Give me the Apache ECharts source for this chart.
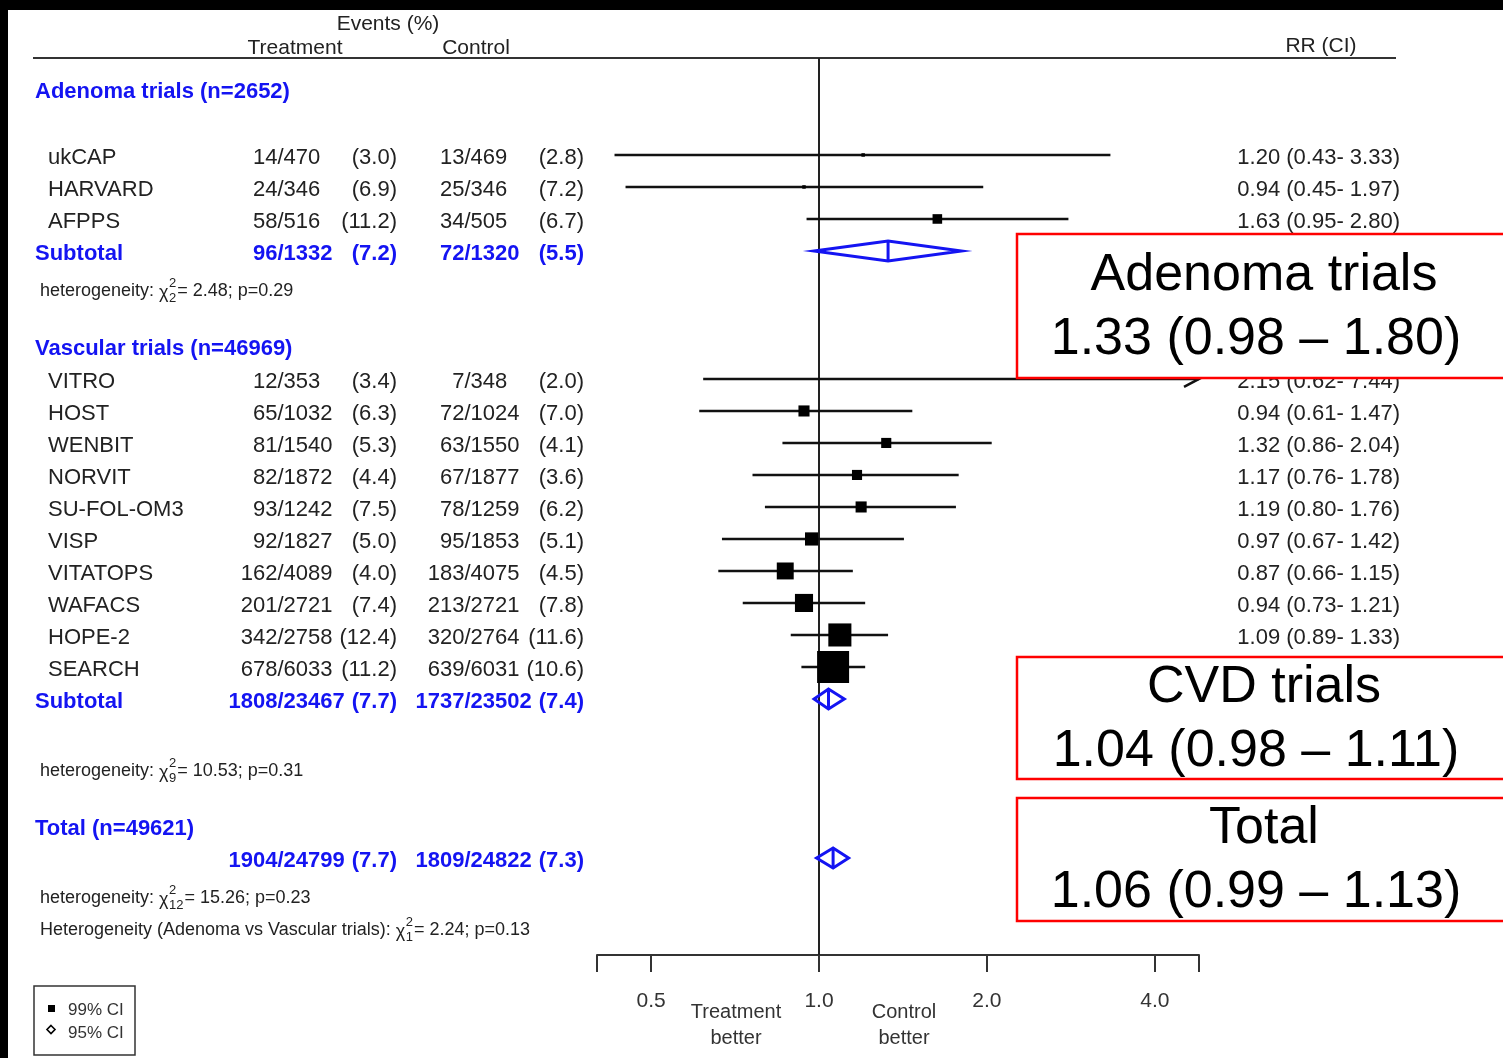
<!DOCTYPE html>
<html><head><meta charset="utf-8">
<script src="https://cdn.jsdelivr.net/npm/echarts@6/dist/echarts.min.js"></script>
<style>html,body{margin:0;padding:0;background:#fff}#c{width:1503px;height:1058px}</style>
</head><body><div id="c"></div>
<script>
// ---------------- data ----------------
const studies   = ['ukCAP','HARVARD','AFPPS','VITRO','HOST','WENBIT','NORVIT','SU-FOL-OM3','VISP','VITATOPS','WAFACS','HOPE-2','SEARCH'];
const studyRow  = [3.03,4.03,5.03,10.03,11.03,12.03,13.03,14.03,15.03,16.03,17.03,18.03,19.03];
const trtEvents = [14,24,58,12,65,81,82,93,92,162,201,342,678];
const trtTotal  = [470,346,516,353,1032,1540,1872,1242,1827,4089,2721,2758,6033];
const trtPct    = ['3.0','6.9','11.2','3.4','6.3','5.3','4.4','7.5','5.0','4.0','7.4','12.4','11.2'];
const ctlEvents = [13,25,34,7,72,63,67,78,95,183,213,320,639];
const ctlTotal  = [469,346,505,348,1024,1550,1877,1259,1853,4075,2721,2764,6031];
const ctlPct    = ['2.8','7.2','6.7','2.0','7.0','4.1','3.6','6.2','5.1','4.5','7.8','11.6','10.6'];
const rrVal     = [1.20,0.94,1.63,2.15,0.94,1.32,1.17,1.19,0.97,0.87,0.94,1.09,1.06];
const rrLo      = [0.43,0.45,0.95,0.62,0.61,0.86,0.76,0.80,0.67,0.66,0.73,0.89,0.93];
const rrHi      = [3.33,1.97,2.80,7.44,1.47,2.04,1.78,1.76,1.42,1.15,1.21,1.33,1.21];
const boxWeight = [0.012,0.012,0.09,0.002,0.12,0.1,0.1,0.12,0.17,0.28,0.32,0.52,1.0];

const sumLabels    = ['Subtotal','Subtotal',''];
const sumRow       = [6.03,20.03,25.0];
const sumTrtEvents = [96,1808,1904];
const sumTrtTotal  = [1332,23467,24799];
const sumTrtPct    = ['7.2','7.7','7.7'];
const sumCtlEvents = [72,1737,1809];
const sumCtlTotal  = [1320,23502,24822];
const sumCtlPct    = ['5.5','7.4','7.3'];
const sumRR        = [1.33,1.04,1.06];
const sumLo        = [0.98,0.98,0.99];
const sumHi        = [1.80,1.11,1.13];

const groupHeaders = ['Adenoma trials (n=2652)','Vascular trials (n=46969)','Total (n=49621)'];
const groupRow     = [0.97,9.0,24.0];

const hetPrefix = ['heterogeneity: ','heterogeneity: ','heterogeneity: ','Heterogeneity (Adenoma vs Vascular trials): '];
const hetDf     = ['2','9','12','1'];
const hetStat   = ['= 2.48; p=0.29','= 10.53; p=0.31','= 15.26; p=0.23','= 2.24; p=0.13'];
const hetRow    = [7.19,22.19,26.16,27.16];

const boxTitles = ['Adenoma trials','CVD trials','Total'];
const boxValues = ['1.33 (0.98 \u2013 1.80)','1.04 (0.98 \u2013 1.11)','1.06 (0.99 \u2013 1.13)'];

const xTickValues = [0.5,1,2,4];
const xTickLabels = ['0.5','1.0','2.0','4.0'];
const legendLabels = ['99% CI','95% CI'];

// ---------------- style / layout ----------------
const FONT = "'Liberation Sans', Arial, Helvetica, sans-serif";
const TXT = '#222';
const BLUE = '#1414f2';
const X_MIN = 0.4, X_MAX = 4.8, Y_MAX = 897/32;
const TXT_DY = 3;
const COL = {name:48, group:35, tSlash:277.5, tPct:397, cSlash:464.5, cPct:584, rr:1400};

const mctx = document.createElement('canvas').getContext('2d');
function tw(text, font){ mctx.font = font; return mctx.measureText(text).width; }
function T(text, x, y, font, fill, align){
  return {type:'text', x:x, y:y, style:{text:text, font:font, fill:fill, align:align||'left', verticalAlign:'middle'}};
}
const F22 = `22px ${FONT}`, F22B = `bold 22px ${FONT}`;
function rrStr(r,l,h){ return `${r.toFixed(2)} (${l.toFixed(2)}- ${h.toFixed(2)})`; }
function rowTexts(y, ev1, tot1, p1, ev2, tot2, p2, font, fill){
  return [
    T(String(ev1), COL.tSlash, y, font, fill, 'right'),
    T('/' + tot1, COL.tSlash, y, font, fill, 'left'),
    T('(' + p1 + ')', COL.tPct, y, font, fill, 'right'),
    T(String(ev2), COL.cSlash, y, font, fill, 'right'),
    T('/' + tot2, COL.cSlash, y, font, fill, 'left'),
    T('(' + p2 + ')', COL.cPct, y, font, fill, 'right')
  ];
}

const chart = echarts.init(document.getElementById('c'), null, {renderer:'canvas'});

const option = {
  animation:false,
  backgroundColor:'#fff',
  grid:{left:597, right:304, top:58, bottom:103},
  xAxis:{
    type:'log', logBase:2, min:X_MIN, max:X_MAX, position:'bottom',
    axisLine:{show:true, onZero:false, lineStyle:{color:'#333', width:2}},
    axisTick:{show:true, length:17, inside:false, lineStyle:{color:'#333', width:2}},
    splitLine:{show:false},
    axisLabel:{
      margin:36, fontSize:21, color:'#333', fontFamily:FONT,
      showMinLabel:true, showMaxLabel:true,
      formatter:function(v){
        for (let k=0;k<xTickValues.length;k++){ if (Math.abs(xTickValues[k]-v) < 1e-6) return xTickLabels[k]; }
        return '';
      }
    }
  },
  yAxis:{type:'value', min:0, max:Y_MAX, inverse:true, show:false},
  series:[
    { // study CI lines & weight boxes
      type:'custom', name:'studies', silent:true, z:5, clip:false,
      data: studies.map((s,i)=>[rrVal[i], studyRow[i], rrLo[i], rrHi[i], boxWeight[i]]),
      encode:{x:0, y:1},
      renderItem:function(params, api){
        const r=api.value(0), row=api.value(1), l=api.value(2), h=api.value(3), w=api.value(4);
        const y = api.coord([r,row])[1];
        const xc = api.coord([r,row])[0];
        const xl = api.coord([l,row])[0];
        const capped = h > X_MAX;
        const xh = api.coord([capped ? X_MAX : h, row])[0];
        const ch = [{type:'line', shape:{x1:xl,y1:y,x2:xh,y2:y}, style:{stroke:'#111', lineWidth:2.5}}];
        if (capped) ch.push({type:'polyline', shape:{points:[[xh-15,y-8],[xh,y],[xh-15,y+8]]}, style:{stroke:'#111', lineWidth:2.5, fill:null}});
        const side = 32*Math.sqrt(w);
        if (side > 2) ch.push({type:'rect', shape:{x:xc-side/2, y:y-side/2, width:side, height:side}, style:{fill:'#000'}});
        return {type:'group', children:ch};
      },
      markLine:{
        silent:true, symbol:['none','none'], label:{show:false},
        lineStyle:{color:'#222', width:2, type:'solid'},
        emphasis:{disabled:true},
        data:[{xAxis:1}]
      }
    },
    { // summary diamonds
      type:'custom', name:'summary', silent:true, z:6, clip:false,
      data: sumRR.map((r,i)=>[r, sumRow[i], sumLo[i], sumHi[i]]),
      encode:{x:0, y:1},
      renderItem:function(params, api){
        const r=api.value(0), row=api.value(1), l=api.value(2), h=api.value(3);
        const p = api.coord([r,row]);
        const xl = api.coord([l,row])[0], xh = api.coord([h,row])[0];
        const hh = 10;
        return {type:'group', children:[
          {type:'polygon', shape:{points:[[xl,p[1]],[p[0],p[1]-hh],[xh,p[1]],[p[0],p[1]+hh]]}, style:{stroke:BLUE, lineWidth:3, fill:null}},
          {type:'line', shape:{x1:p[0],y1:p[1]-hh,x2:p[0],y2:p[1]+hh}, style:{stroke:BLUE, lineWidth:3}}
        ]};
      }
    },
    { // study table text
      type:'custom', name:'studyText', silent:true, z:4, clip:false,
      data: studies.map((s,i)=>[1, studyRow[i]]),
      encode:{x:0, y:1},
      renderItem:function(params, api){
        const i = params.dataIndex;
        const y = api.coord([1, api.value(1)])[1] + TXT_DY;
        const ch = [T(studies[i], COL.name, y, F22, TXT, 'left')]
          .concat(rowTexts(y, trtEvents[i], trtTotal[i], trtPct[i], ctlEvents[i], ctlTotal[i], ctlPct[i], F22, TXT));
        ch.push(T(rrStr(rrVal[i], rrLo[i], rrHi[i]), COL.rr, y, F22, TXT, 'right'));
        return {type:'group', children:ch};
      }
    },
    { // summary table text
      type:'custom', name:'sumText', silent:true, z:4, clip:false,
      data: sumRow.map(r=>[1, r]),
      encode:{x:0, y:1},
      renderItem:function(params, api){
        const i = params.dataIndex;
        const y = api.coord([1, api.value(1)])[1] + TXT_DY;
        const ch = [T(sumLabels[i], COL.group, y, F22B, BLUE, 'left')]
          .concat(rowTexts(y, sumTrtEvents[i], sumTrtTotal[i], sumTrtPct[i], sumCtlEvents[i], sumCtlTotal[i], sumCtlPct[i], F22B, BLUE));
        ch.push(T(rrStr(sumRR[i], sumLo[i], sumHi[i]), COL.rr, y, F22, TXT, 'right'));
        return {type:'group', children:ch};
      }
    },
    { // group headers
      type:'custom', name:'groupText', silent:true, z:4, clip:false,
      data: groupRow.map(r=>[1, r]),
      encode:{x:0, y:1},
      renderItem:function(params, api){
        const y = api.coord([1, api.value(1)])[1] + TXT_DY;
        return T(groupHeaders[params.dataIndex], COL.group, y, `bold 22px ${FONT}`, BLUE, 'left');
      }
    },
    { // heterogeneity lines
      type:'custom', name:'hetText', silent:true, z:4, clip:false,
      data: hetRow.map(r=>[1, r]),
      encode:{x:0, y:1},
      renderItem:function(params, api){
        const i = params.dataIndex;
        const y = api.coord([1, api.value(1)])[1] + TXT_DY;
        const f = `18px ${FONT}`, fs = `13px ${FONT}`;
        const x0 = 40;
        const w1 = tw(hetPrefix[i], f);
        const wChi = tw('\u03c7', f);
        const xs = x0 + w1 + wChi + 0.5;
        const wS = Math.max(tw('2', fs), tw(hetDf[i], fs));
        return {type:'group', children:[
          T(hetPrefix[i], x0, y, f, TXT, 'left'),
          T('\u03c7', x0 + w1, y + 2, f, TXT, 'left'),
          T('2', xs, y - 8, fs, TXT, 'left'),
          T(hetDf[i], xs, y + 7, fs, TXT, 'left'),
          T(hetStat[i], xs + wS + 1, y, f, TXT, 'left')
        ]};
      }
    }
  ],
  graphic:{elements:[
    {type:'rect', z:200, shape:{x:0,y:0,width:1503,height:10}, style:{fill:'#000'}},
    {type:'rect', z:200, shape:{x:0,y:0,width:8,height:1058}, style:{fill:'#000'}},
    {type:'line', z:3, shape:{x1:33,y1:58,x2:1396,y2:58}, style:{stroke:'#333', lineWidth:2}},
    {type:'text', z:3, x:388, y:24, style:{text:'Events (%)', font:`21px ${FONT}`, fill:TXT, align:'center', verticalAlign:'middle'}},
    {type:'text', z:3, x:295, y:48, style:{text:'Treatment', font:`21px ${FONT}`, fill:TXT, align:'center', verticalAlign:'middle'}},
    {type:'text', z:3, x:476, y:48, style:{text:'Control', font:`21px ${FONT}`, fill:TXT, align:'center', verticalAlign:'middle'}},
    {type:'text', z:3, x:1321, y:46, style:{text:'RR (CI)', font:`21px ${FONT}`, fill:TXT, align:'center', verticalAlign:'middle'}},
    {type:'text', z:3, x:736, y:1012, style:{text:'Treatment', font:`20px ${FONT}`, fill:'#333', align:'center', verticalAlign:'middle'}},
    {type:'text', z:3, x:736, y:1038, style:{text:'better', font:`20px ${FONT}`, fill:'#333', align:'center', verticalAlign:'middle'}},
    {type:'text', z:3, x:904, y:1012, style:{text:'Control', font:`20px ${FONT}`, fill:'#333', align:'center', verticalAlign:'middle'}},
    {type:'text', z:3, x:904, y:1038, style:{text:'better', font:`20px ${FONT}`, fill:'#333', align:'center', verticalAlign:'middle'}},
    // legend
    {type:'rect', z:3, shape:{x:34,y:986,width:101,height:69}, style:{fill:'#fff', stroke:'#333', lineWidth:1.5}},
    {type:'rect', z:4, shape:{x:48,y:1005,width:7,height:7}, style:{fill:'#000'}},
    {type:'polygon', z:4, shape:{points:[[51,1025.5],[55,1029.5],[51,1033.5],[47,1029.5]]}, style:{fill:'#fff', stroke:'#000', lineWidth:1.6}},
    {type:'text', z:4, x:68, y:1010, style:{text:legendLabels[0], font:`17px ${FONT}`, fill:'#333', align:'left', verticalAlign:'middle'}},
    {type:'text', z:4, x:68, y:1033, style:{text:legendLabels[1], font:`17px ${FONT}`, fill:'#333', align:'left', verticalAlign:'middle'}},
    // red annotation boxes
    {type:'rect', z:100, shape:{x:1017,y:234,width:500,height:144}, style:{fill:'#fff', stroke:'#ff0000', lineWidth:2.5}},
    {type:'text', z:101, x:1264, y:276, style:{text:boxTitles[0], font:`52px ${FONT}`, fill:'#000', align:'center', verticalAlign:'middle'}},
    {type:'text', z:101, x:1256, y:340, style:{text:boxValues[0], font:`52px ${FONT}`, fill:'#000', align:'center', verticalAlign:'middle'}},
    {type:'rect', z:100, shape:{x:1017,y:657,width:500,height:122}, style:{fill:'#fff', stroke:'#ff0000', lineWidth:2.5}},
    {type:'text', z:101, x:1264, y:688, style:{text:boxTitles[1], font:`52px ${FONT}`, fill:'#000', align:'center', verticalAlign:'middle'}},
    {type:'text', z:101, x:1256, y:752, style:{text:boxValues[1], font:`52px ${FONT}`, fill:'#000', align:'center', verticalAlign:'middle'}},
    {type:'rect', z:100, shape:{x:1017,y:798,width:500,height:123}, style:{fill:'#fff', stroke:'#ff0000', lineWidth:2.5}},
    {type:'text', z:101, x:1264, y:829, style:{text:boxTitles[2], font:`52px ${FONT}`, fill:'#000', align:'center', verticalAlign:'middle'}},
    {type:'text', z:101, x:1256, y:893, style:{text:boxValues[2], font:`52px ${FONT}`, fill:'#000', align:'center', verticalAlign:'middle'}}
  ]}
};
chart.setOption(option);
</script>
</body></html>
